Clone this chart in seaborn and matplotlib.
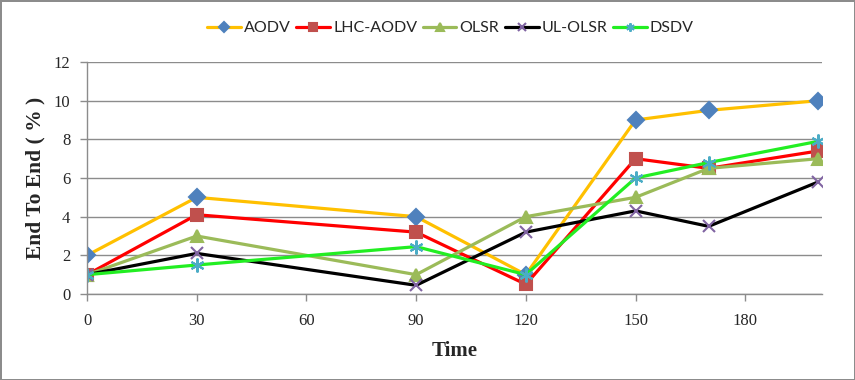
import pandas as pd
import matplotlib.pyplot as plt
import seaborn as sns

# values
time = [0, 30, 90, 120, 150, 170, 200]
aodv = [2, 5, 4, 1, 9, 9.5, 10]
lhc_aodv = [1, 4.1, 3.2, 0.5, 7, 6.5, 7.4]
olsr = [1, 3, 1, 4, 5, 6.5, 7]
ul_olsr = [1, 2.1, 0.45, 3.2, 4.3, 3.5, 5.8]
dsdv = [1, 1.5, 2.45, 1, 6, 6.8, 7.9]

x_ticks = [0, 30, 60, 90, 120, 150, 180]
y_ticks = [0, 2, 4, 6, 8, 10, 12]

series = {
    'AODV': aodv,
    'LHC-AODV': lhc_aodv,
    'OLSR': olsr,
    'UL-OLSR': ul_olsr,
    'DSDV': dsdv,
}

# line colour, marker, marker colour, marker size
styles = {
    'AODV': ('#FFC000', 'D', '#4F81BD', 8),
    'LHC-AODV': ('#FF0000', 's', '#C0504D', 9),
    'OLSR': ('#9BBB59', '^', '#9BBB59', 9),
    'UL-OLSR': ('#000000', 'x', '#8064A2', 9),
    'DSDV': ('#22EE22', (6, 2, 0), '#4BACC6', 10),
}

sns.set_theme(style="white")
serif = ['Liberation Serif', 'DejaVu Serif']

fig = plt.figure(figsize=(8.55, 3.8), dpi=100, edgecolor='#8c8c8c', linewidth=2)
ax = fig.add_axes([0.1018, 0.2263, 0.8596, 0.6105])

for name, vals in series.items():
    line_c, marker, marker_c, ms = styles[name]
    df = pd.DataFrame({'Time': time, 'value': vals})
    sns.lineplot(
        data=df, x='Time', y='value',
        color=line_c, marker=marker, markersize=ms,
        markerfacecolor=marker_c, markeredgecolor=marker_c,
        markeredgewidth=1.5, linewidth=2.3, label=name, ax=ax,
    )

ax.set_xlim(0, 201)
ax.set_ylim(0, 12)
ax.set_xticks(x_ticks)
ax.set_yticks(y_ticks)
ax.set_xticklabels([str(t) for t in x_ticks], family=serif, fontsize=12)
ax.set_yticklabels([str(t) for t in y_ticks], family=serif, fontsize=12)
ax.tick_params(axis='both', direction='out', length=5, width=1, color='#8c8c8c',
               bottom=True, left=True, pad=7)
ax.tick_params(axis='x', pad=9)
ax.yaxis.grid(True, color='#8c8c8c', linewidth=1)
ax.xaxis.grid(False)
for side in ['top', 'right']:
    ax.spines[side].set_visible(False)
for side in ['left', 'bottom']:
    ax.spines[side].set_color('#8c8c8c')
    ax.spines[side].set_linewidth(1)

ax.set_xlabel('Time', family=serif, fontsize=15, fontweight='bold', labelpad=8)
ax.set_ylabel('End To End ( % )', family=serif, fontsize=15.5, fontweight='bold', labelpad=6)

ax.legend(loc='center', bbox_to_anchor=(0.527, 0.926), bbox_transform=fig.transFigure,
          ncol=5, frameon=False, prop={'family': ['Lato', 'DejaVu Sans'], 'size': 11.5},
          handlelength=2.1, handletextpad=0.2, columnspacing=0.35, markerscale=0.6)

fig.savefig('out.png', dpi=100)
